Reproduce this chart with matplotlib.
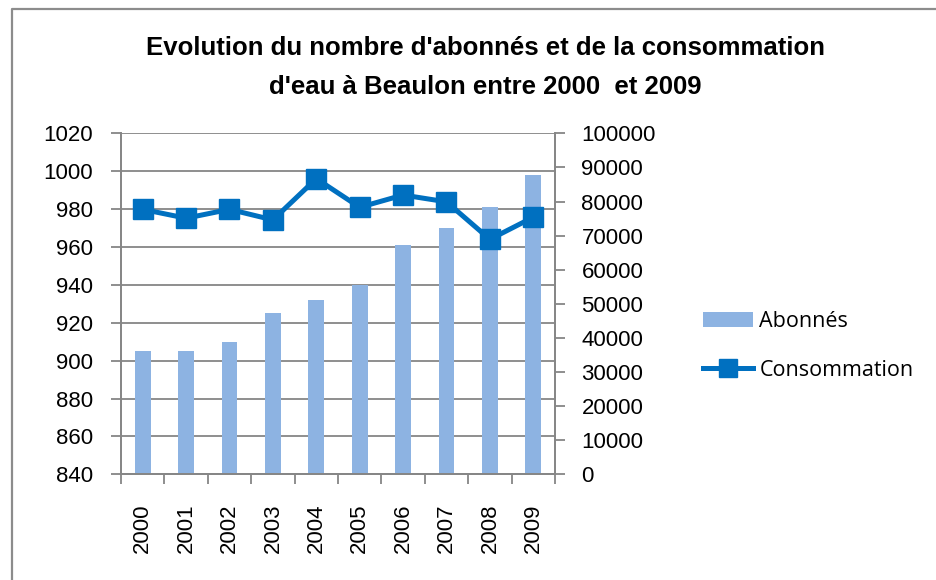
import matplotlib
matplotlib.use("Agg")
import matplotlib.pyplot as plt
from matplotlib.lines import Line2D
from matplotlib.patches import Patch

years = ["2000", "2001", "2002", "2003", "2004", "2005", "2006", "2007", "2008", "2009"]
abonnes = [905, 905, 910, 925, 932, 940, 961, 970, 981, 998]
consommation = [77700, 75100, 77700, 74600, 86700, 78300, 81900, 79900, 68900, 75400]
left_ticks = list(range(840, 1021, 20))
right_ticks = list(range(0, 100001, 10000))

title = "Evolution du nombre d'abonnés et de la consommation\nd'eau à Beaulon entre 2000  et 2009"

plt.rcParams['font.family'] = ['Liberation Sans', 'DejaVu Sans']

fig = plt.figure(figsize=(9.37, 5.8), dpi=100)
# chart frame (only top and left edges visible)
fig.add_artist(Line2D([12/937, 12/937, 1.0], [0.0, 1 - 9/580, 1 - 9/580],
                      transform=fig.transFigure, color='#8c8c8c', linewidth=1.6))

ax = fig.add_axes([121/937, 1 - 474.3/580, (555-121)/937, (474.3-133.3)/580])
ax2 = ax.twinx()

x = list(range(len(years)))
grid_c = '#868686'
ax.bar(x, abonnes, width=0.36, color='#8DB3E2', zorder=2)
ax.set_ylim(840, 1020)
ax.set_xlim(-0.5, len(years) - 0.5)
ax.set_yticks(left_ticks)
ax.set_yticklabels([str(v) for v in left_ticks], fontsize=16)
ax.yaxis.grid(True, color=grid_c, linewidth=1.3, zorder=0)
ax.set_axisbelow(True)
ax.set_xticks([i - 0.5 for i in range(len(years) + 1)], minor=False)
ax.set_xticklabels([])
ax.set_xticks(x, minor=True)
ax.set_xticklabels(years, minor=True, rotation=90, fontsize=16)
ax.tick_params(axis='x', which='minor', length=0, pad=21)
ax.tick_params(axis='x', which='major', length=7, color=grid_c, width=1.3)
ax.tick_params(axis='y', length=7, color=grid_c, width=1.3, pad=13)

ax2.plot(x, consommation, color='#0070C0', linewidth=3.6, marker='s', markersize=14, zorder=3)
ax2.set_ylim(0, 100000)
ax2.set_yticks(right_ticks)
ax2.set_yticklabels([str(v) for v in right_ticks], fontsize=16)
ax2.tick_params(axis='y', length=7, color=grid_c, width=1.3, pad=12)

for a in (ax, ax2):
    a.spines['top'].set_visible(False)
    for s in ['left', 'right', 'bottom']:
        a.spines[s].set_color(grid_c)
        a.spines[s].set_linewidth(1.3)

fig.text(0.518, 1 - 67.5/580, title, ha='center', va='center', fontsize=18.5, fontweight='bold',
         linespacing=1.8)

handles = [Patch(facecolor='#8DB3E2', edgecolor='none'),
           Line2D([0], [0], color='#0070C0', linewidth=3.6, marker='s', markersize=13)]
fig.legend(handles, ['Abonnés', 'Consommation'], loc='center left',
           bbox_to_anchor=(684/937, 1 - 346/580), frameon=False,
           handlelength=2.3, handletextpad=0.3, labelspacing=1.3,
           prop={'family': ['Open Sans', 'DejaVu Sans'], 'size': 15.5})

fig.savefig("out.png", dpi=100)
